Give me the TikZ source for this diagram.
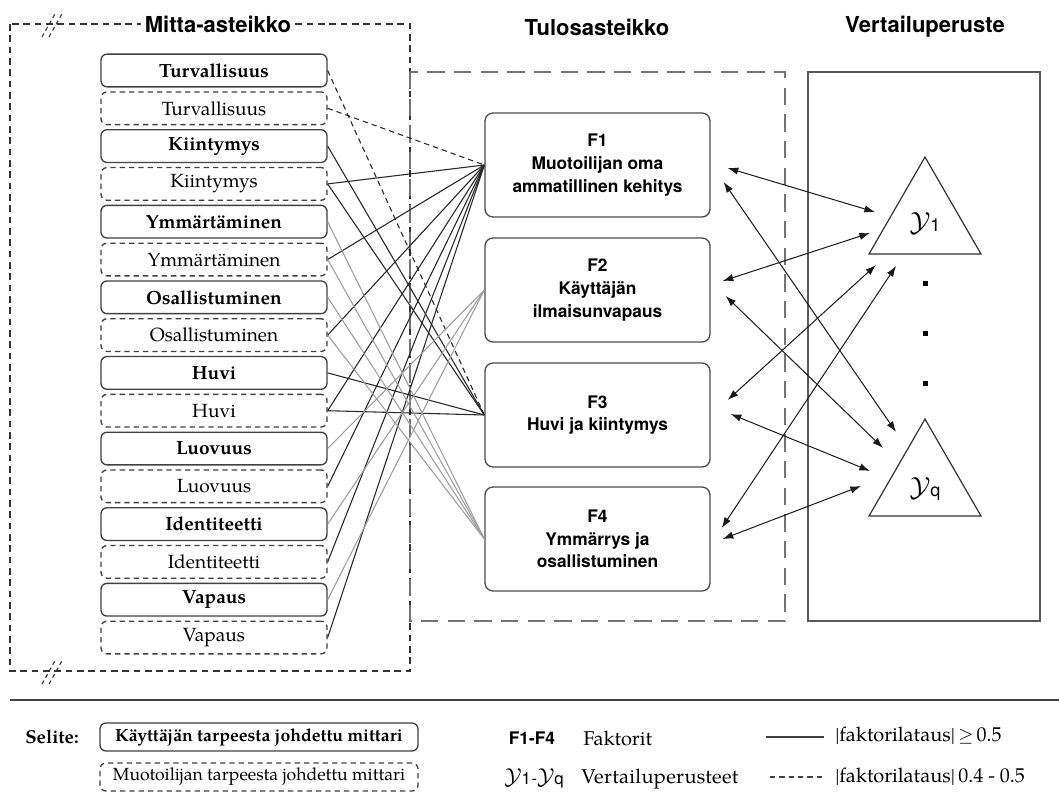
\documentclass[tikz,border=0pt]{standalone}
\usepackage{fontspec}
\setmainfont{TeX Gyre Pagella}
\newfontfamily\hv{TeX Gyre Heros}
\usetikzlibrary{arrows.meta,shapes.geometric,calc}

\tikzset{
  measure/.style={draw=black!75, line width=1pt, rounded corners=4.5pt,
    minimum width=169.5pt, minimum height=24.5pt, inner sep=0pt, fill=white,
    font=\fontsize{14.3}{16}\selectfont},
  userbox/.style={measure, font=\fontsize{14.3}{16}\selectfont\bfseries},
  designbox/.style={measure, dash pattern=on 4pt off 3pt},
  factor/.style={draw=black!70, line width=1pt, rounded corners=6pt,
    minimum width=168.75pt, minimum height=78pt, align=center,
    font=\hv\bfseries\fontsize{13}{17}\selectfont},
  heading/.style={font=\hv\bfseries\fontsize{16.5}{18}\selectfont, inner sep=3pt},
  strong/.style={draw=black!85, line width=0.8pt},
  weak/.style={draw=black!38, line width=0.8pt},
  partial/.style={draw=black!85, line width=0.8pt, dash pattern=on 4pt off 3pt},
  link/.style={{Latex[length=8pt,width=5.5pt]}-{Latex[length=8pt,width=5.5pt]},
    draw=black!90, line width=0.75pt},
  criterion/.style={draw=black!80, line width=0.9pt, regular polygon,
    regular polygon sides=3, minimum size=97pt, inner sep=0pt},
  legtext/.style={anchor=west, inner sep=0pt, font=\fontsize{15}{17}\selectfont},
}

\newcommand{\ysym}[1]{{\fontsize{20}{20}\selectfont$\mathcal{Y}$}{\hv\fontsize{13.5}{13.5}\selectfont #1}}
\newcommand{\ysmall}[1]{{\fontsize{17}{17}\selectfont$\mathcal{Y}$}{\hv\fontsize{12.5}{12.5}\selectfont #1}}

\begin{document}
\begin{tikzpicture}[x=0.75pt,y=-0.75pt]
\useasboundingbox (0,0) rectangle (1059,792);

% frames
\draw[black!80, line width=0.9pt, dash pattern=on 5pt off 3.5pt] (10,24) rectangle (410,671);
\draw[black!55, line width=1.1pt, dash pattern=on 13pt off 7pt] (410,72) rectangle (785,621);
\draw[black!65, line width=1.1pt] (808,72) rectangle (1040,621);

% break marks on the scale frame
\foreach \yy in {24,671}{
  \draw[black!80, line width=0.8pt, dash pattern=on 3pt off 2.5pt] (42,\yy+13) -- (56,\yy-12);
  \draw[black!80, line width=0.8pt, dash pattern=on 3pt off 2.5pt] (49,\yy+13) -- (63,\yy-12);
}

% headings
\node[heading, fill=white] (hM) at (218,24) {Mitta-asteikko};
\node[heading] (hT) at (597,27) {Tulosasteikko};
\node[heading] (hV) at (925,27) {Vertailuperuste};

% measures
\node[userbox]   (tu) at (214,70.5)  {Turvallisuus};
\node[designbox] (td) at (214,108.3) {Turvallisuus};
\node[userbox]   (ku) at (214,146.1) {Kiintymys};
\node[designbox] (kd) at (214,183.9) {Kiintymys};
\node[userbox]   (yu) at (214,221.7) {Ymmärtäminen};
\node[designbox] (yd) at (214,259.5) {Ymmärtäminen};
\node[userbox]   (ou) at (214,297.3) {Osallistuminen};
\node[designbox] (od) at (214,335.1) {Osallistuminen};
\node[userbox]   (hu) at (214,372.9) {Huvi};
\node[designbox] (hd) at (214,410.7) {Huvi};
\node[userbox]   (lu) at (214,448.5) {Luovuus};
\node[designbox] (ld) at (214,486.3) {Luovuus};
\node[userbox]   (iu) at (214,524.1) {Identiteetti};
\node[designbox] (id) at (214,561.9) {Identiteetti};
\node[userbox]   (vu) at (214,599.7) {Vapaus};
\node[designbox] (vd) at (214,637.5) {Vapaus};

% factors
\node[factor] (F1) at (597.5,165) {F1\\Muotoilijan oma\\ammatillinen kehitys};
\node[factor] (F2) at (597.5,290) {F2\\Käyttäjän\\ilmaisunvapaus};
\node[factor] (F3) at (597.5,415) {F3\\Huvi ja kiintymys};
\node[factor] (F4) at (597.5,539) {F4\\Ymmärrys ja\\osallistuminen};

% loadings
\draw[partial] (tu.east) -- (F3.west);
\draw[partial] (td.east) -- (F1.west);
\foreach \m in {kd,yd,od,hd,ld,id,vd} \draw[strong] (\m.east) -- (F1.west);
\foreach \m in {ku,kd,hu,hd} \draw[strong] (\m.east) -- (F3.west);
\foreach \m in {yu,yd,ou,od} \draw[weak] (\m.east) -- (F4.west);
\foreach \m in {lu,iu,vu} \draw[weak] (\m.east) -- (F2.west);

% criteria
\node[criterion] (Y1) at (925,221.7) {};
\node[criterion] (Yq) at (925,483.7) {};
\node at (925,223) {\ysym{1}};
\node at (925,489) {\ysym{q}};
\foreach \yy in {283,333,383} \fill (922.5,\yy-2.5) rectangle (927.5,\yy+2.5);

% factor-criterion links
\draw[link] ($(F1.east)+(17,3)$)   -- ($(Y1.center)+(-50,-9.7)$);
\draw[link] ($(F1.east)+(13,17)$)  -- ($(Yq.center)+(-29,-51.7)$);
\draw[link] ($(F2.east)+(12,-9)$)  -- ($(Y1.center)+(-55,11.3)$);
\draw[link] ($(F2.east)+(15,6)$)   -- ($(Yq.center)+(-42,-35.7)$);
\draw[link] ($(F3.east)+(17,-15)$) -- ($(Y1.center)+(-49,43.3)$);
\draw[link] ($(F3.east)+(20,-1)$)  -- ($(Yq.center)+(-55,-12.7)$);
\draw[link] ($(F4.east)+(11,-11)$) -- ($(Y1.center)+(-29,44.3)$);
\draw[link] ($(F4.east)+(12,0)$)   -- ($(Yq.center)+(-64,2.3)$);

% legend
\coordinate (sepL) at (10,700);
\coordinate (sepR) at (1059,700);
\draw[black!75, line width=1.2pt] (sepL) -- (sepR);
\node[font=\fontsize{14}{16}\selectfont\bfseries] (sel) at (52,737) {Selite:};
\node[userbox, minimum width=238.5pt, minimum height=21pt, font=\fontsize{13.2}{15}\selectfont\bfseries] (lgU) at (259,737) {Käyttäjän tarpeesta johdettu mittari};
\node[designbox, minimum width=238.5pt, minimum height=21pt, font=\fontsize{13.2}{15}\selectfont] (lgD) at (259,777) {Muotoilijan tarpeesta johdettu mittari};
\node[font=\hv\bfseries\fontsize{13}{15}\selectfont] (lgF) at (532,738) {F1-F4};
\node[legtext] (lgFt) at (583,738) {Faktorit};
\node (lgY) at (534,778) {\ysmall{1}\hspace{0.5pt}{\hv\fontsize{12.5}{12.5}\selectfont -}\ysmall{q}};
\node[legtext, font=\fontsize{15}{17}\selectfont\addfontfeatures{LetterSpace=1.5}] (lgYt) at (581,779) {Vertailuperusteet};
\coordinate (ls1) at (766,737);
\coordinate (ls2) at (824,737);
\coordinate (ld1) at (770,777);
\coordinate (ld2) at (822,777);
\draw[black!75, line width=1pt] (ls1) -- (ls2);
\draw[black!75, line width=1pt, dash pattern=on 4pt off 3pt] (ld1) -- (ld2);
\node[legtext] (lgS) at (835,736) {|faktorilataus|\,$\geq$\,0.5};
\node[legtext] (lgW) at (835,777) {|faktorilataus|\,0.4 - 0.5};
\end{tikzpicture}
\end{document}
